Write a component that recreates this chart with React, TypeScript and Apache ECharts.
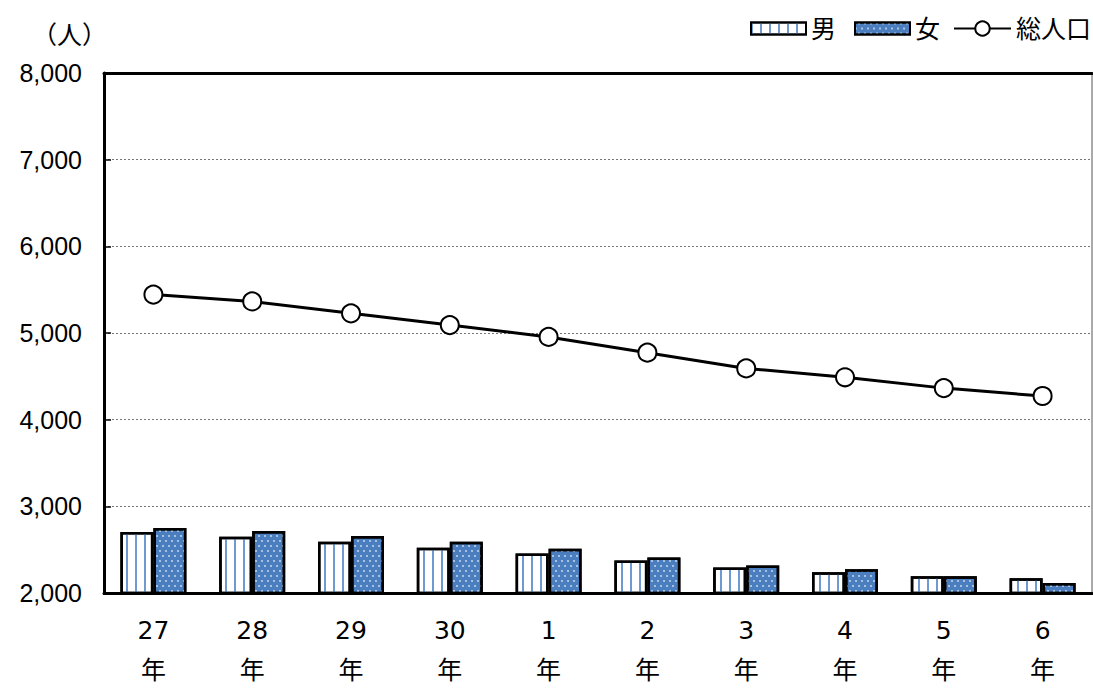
import React, { useEffect, useRef } from "react";
import * as echarts from "echarts";

const categories = ["27", "28", "29", "30", "1", "2", "3", "4", "5", "6"];
const maleValues = [2705, 2648, 2591, 2523, 2455, 2375, 2295, 2239, 2193, 2170];
const femaleValues = [2750, 2716, 2659, 2591, 2511, 2409, 2318, 2273, 2193, 2114];
const totalValues = [5443, 5364, 5227, 5091, 4955, 4773, 4591, 4489, 4364, 4273];
const yTicks = [2000, 3000, 4000, 5000, 6000, 7000, 8000];

const JP = "'Liberation Sans', 'Noto Sans CJK JP', sans-serif";

export default function App() {
  const ref = useRef<HTMLDivElement>(null);
  useEffect(() => {
    if (!ref.current) return;
    const chart = echarts.init(ref.current, null, { renderer: "svg", width: 1093, height: 690 });
    const option = {
      animation: false,
      backgroundColor: "#fff",
      textStyle: { fontFamily: JP },
      grid: {
        left: 104,
        right: 1,
        top: 73,
        height: 528,
        show: true,
        borderColor: "#555",
        borderWidth: 1,
      },
      legend: [
        {
          data: ["男", "女"],
          left: 745,
          top: 11,
          icon: "rect",
          itemWidth: 55,
          itemHeight: 12,
          itemGap: 18,
          textStyle: { fontSize: 25, color: "#000", fontFamily: JP },
        },
        {
          data: ["総人口"],
          left: 948,
          top: 11,
          itemWidth: 57,
          itemHeight: 18,
          textStyle: { fontSize: 25, color: "#000", fontFamily: JP },
        },
      ],
      graphic: [
        {
          type: "text",
          left: 32,
          top: 22,
          style: { text: "（人）", fontSize: 25, fill: "#000", fontFamily: JP },
        },
      ],
      xAxis: [
        {
          type: "category",
          data: categories,
          axisLine: { lineStyle: { color: "#000", width: 3 } },
          axisTick: { show: false },
          axisLabel: {
            interval: 0,
            color: "#000",
            fontSize: 25,
            lineHeight: 40,
            margin: 17,
            fontFamily: "'DejaVu Sans', 'Noto Sans CJK JP', sans-serif",
            formatter: (v: string) => v + "\n年",
          },
        },
        {
          type: "category",
          position: "top",
          data: categories,
          axisLine: { lineStyle: { color: "#000", width: 3 } },
          axisTick: { show: false },
          axisLabel: { show: false },
        },
      ],
      yAxis: {
        type: "value",
        min: yTicks[0],
        max: yTicks[yTicks.length - 1],
        interval: 1000,
        axisLine: { show: true, lineStyle: { color: "#000", width: 3 } },
        axisTick: { show: true, inside: true, length: 7, lineStyle: { color: "#000", width: 1.5 } },
        axisLabel: {
          color: "#000",
          fontSize: 25,
          margin: 22,
          fontFamily: JP,
          formatter: (v: number) => v.toLocaleString("en-US"),
        },
        splitLine: { show: true, lineStyle: { color: "#777", width: 1, type: [2, 2] } },
      },
      series: [
        {
          name: "男",
          type: "bar",
          data: maleValues,
          barWidth: 33,
          barGap: "0%",
          itemStyle: {
            color: "#ffffff",
            borderColor: "#000",
            borderWidth: 2.5,
            decal: {
              symbol: "rect",
              symbolSize: 1,
              dashArrayX: [2, 7],
              dashArrayY: [4, 0],
              color: "#6f99d2",
            },
          },
        },
        {
          name: "女",
          type: "bar",
          data: femaleValues,
          barWidth: 33,
          barGap: "0%",
          itemStyle: {
            color: "#4a7ebf",
            borderColor: "#000",
            borderWidth: 2.5,
            decal: {
              symbol: "circle",
              symbolSize: 0.8,
              dashArrayX: [[2, 4], [0, 3, 2, 1]],
              dashArrayY: [2, 3],
              color: "rgba(255,255,255,0.8)",
            },
          },
        },
        {
          name: "総人口",
          type: "line",
          data: totalValues,
          symbol: "circle",
          symbolSize: 18,
          lineStyle: { color: "#000", width: 3 },
          itemStyle: { color: "#fff", borderColor: "#000", borderWidth: 2 },
          z: 5,
        },
      ],
    };
    chart.setOption(option as any);
    return () => chart.dispose();
  }, []);
  return (
    <div
      ref={ref}
      style={{ position: "fixed", left: 0, top: 0, width: 1093, height: 690 }}
    />
  );
}
